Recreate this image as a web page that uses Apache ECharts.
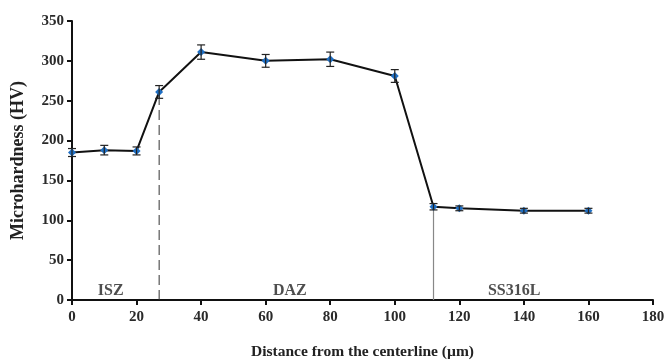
<!DOCTYPE html>
<html><head><meta charset="utf-8">
<script src="https://cdn.jsdelivr.net/npm/echarts@6/dist/echarts.min.js"></script>
<style>html,body{margin:0;padding:0;background:#fff}#c{width:668px;height:360px}</style>
</head><body><div id="c"></div>
<script>
const distances = [0, 10, 20, 27, 40, 60, 80, 100, 112, 120, 140, 160];
const hardness = [185, 188, 187, 261, 311, 300, 302, 281, 117, 115, 112, 112];
const errors = [5, 6, 5, 8, 9, 8, 9, 8, 4, 3, 3, 3];
const boundaryX = [27, 112];
const boundaryY = [261, 117];
const zoneLabels = ['ISZ', 'DAZ', 'SS316L'];
const zoneX = [12, 67.5, 137];
const zoneY = [12, 12, 12];

const font = 'Liberation Serif';
const chart = echarts.init(document.getElementById('c'));
chart.setOption({
  animation: false,
  grid: {left: 72, right: 15, top: 21, bottom: 60, containLabel: false, outerBoundsMode: 'none'},
  xAxis: {
    type: 'value', min: 0, max: 180, interval: 20,
    name: 'Distance from the centerline (µm)', nameLocation: 'middle', nameGap: 44,
    nameTextStyle: {fontFamily: font, fontWeight: 'bold', fontSize: 15.5, color: '#222'},
    axisLine: {lineStyle: {color: '#111', width: 2}},
    axisTick: {show: true, length: 5, lineStyle: {color: '#111', width: 2}},
    axisLabel: {fontFamily: font, fontWeight: 'bold', fontSize: 15, color: '#2a2a2a', margin: 10},
    splitLine: {show: false}
  },
  yAxis: {
    type: 'value', min: 0, max: 350, interval: 50,
    name: 'Microhardness (HV)', nameLocation: 'middle', nameGap: 45,
    nameTextStyle: {fontFamily: font, fontWeight: 'bold', fontSize: 18, color: '#222'},
    axisLine: {show: true, lineStyle: {color: '#111', width: 2}},
    axisTick: {show: true, length: 5, lineStyle: {color: '#111', width: 2}},
    axisLabel: {fontFamily: font, fontWeight: 'bold', fontSize: 15, color: '#2a2a2a', margin: 8},
    splitLine: {show: false}
  },
  series: [
    {
      type: 'line', silent: true, symbol: 'none',
      data: [[boundaryX[0], 0], [boundaryX[0], boundaryY[0]]],
      lineStyle: {color: '#333', width: 1, type: [10, 5]}, z: 1
    },
    {
      type: 'line', silent: true, symbol: 'none',
      data: [[boundaryX[1], 0], [boundaryX[1], boundaryY[1]]],
      lineStyle: {color: '#888', width: 1.2}, z: 1
    },
    {
      type: 'line',
      data: distances.map((d, i) => [d, hardness[i]]),
      symbol: 'diamond', symbolSize: 8,
      itemStyle: {color: '#1f6fc4'},
      lineStyle: {color: '#111', width: 2}, z: 3
    },
    {
      type: 'custom', z: 4,
      data: distances.map((d, i) => [d, hardness[i] - errors[i], hardness[i] + errors[i]]),
      renderItem: function (params, api) {
        const x = api.value(0);
        const lo = api.coord([x, api.value(1)]);
        const hi = api.coord([x, api.value(2)]);
        const w = 4;
        const st = {stroke: '#222', lineWidth: 1.2};
        return {type: 'group', children: [
          {type: 'line', shape: {x1: lo[0], y1: lo[1], x2: hi[0], y2: hi[1]}, style: st},
          {type: 'line', shape: {x1: lo[0] - w, y1: lo[1], x2: lo[0] + w, y2: lo[1]}, style: st},
          {type: 'line', shape: {x1: hi[0] - w, y1: hi[1], x2: hi[0] + w, y2: hi[1]}, style: st}
        ]};
      }
    },
    {
      type: 'scatter', symbolSize: 0, silent: true,
      data: zoneLabels.map((t, i) => ({value: [zoneX[i], zoneY[i]], name: t})),
      label: {show: true, position: 'inside', formatter: p => p.name,
        fontFamily: font, fontWeight: 'bold', fontSize: 16, color: '#222'}
    }
  ]
});
</script></body></html>
